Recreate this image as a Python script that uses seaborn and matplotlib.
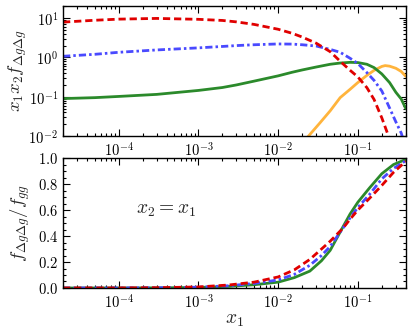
import numpy as np
import pandas as pd
import seaborn as sns
import matplotlib
matplotlib.use("Agg")
import matplotlib.pyplot as plt
from matplotlib.ticker import FuncFormatter, LogLocator, MultipleLocator, NullFormatter

# ---- data ----
x_top = [2e-5, 5e-5, 1e-4, 3e-4, 1e-3, 2e-3, 3e-3, 5e-3, 1e-2, 1.5e-2, 2e-2, 3e-2,
         4.5e-2, 6e-2, 8e-2, 0.1, 0.13, 0.16, 0.2, 0.25, 0.3, 0.35, 0.4]
red_top = [7.9, 8.8, 9.4, 9.8, 9.3, 8.7, 8.0, 6.9, 5.2, 4.1, 3.3, 2.3,
           1.4, 0.8, 0.47, 0.32, 0.17, 0.085, 0.029, 0.0085, 0.0015, 0.0004, 0.0001]
blue_top = [1.07, 1.2, 1.35, 1.55, 1.75, 1.9, 2.0, 2.1, 2.2, 2.18, 2.1, 1.95,
            1.6, 1.35, 0.95, 0.7, 0.41, 0.26, 0.14, 0.052, 0.023, 0.012, 0.005]
green_top = [0.09, 0.095, 0.102, 0.115, 0.145, 0.172, 0.2, 0.25, 0.34, 0.42, 0.48, 0.57,
             0.67, 0.72, 0.75, 0.74, 0.67, 0.55, 0.38, 0.23, 0.13, 0.088, 0.05]
x_orange = [0.02, 0.024, 0.033, 0.045, 0.06, 0.08, 0.1, 0.13, 0.16, 0.2, 0.22, 0.25,
            0.3, 0.35, 0.4]
orange_top = [0.006, 0.01, 0.021, 0.044, 0.095, 0.155, 0.23, 0.35, 0.47, 0.59, 0.62, 0.6,
              0.53, 0.44, 0.33]

x_bot = [2e-5, 1e-4, 3e-4, 1e-3, 2.4e-3, 5e-3, 1e-2, 1.6e-2, 2.5e-2, 3.5e-2, 4.5e-2,
         6.5e-2, 8e-2, 0.1, 0.14, 0.2, 0.28, 0.4]
red_bot = [0.0, 0.0005, 0.002, 0.008, 0.023, 0.045, 0.085, 0.14, 0.22, 0.3, 0.36,
           0.46, 0.53, 0.6, 0.69, 0.79, 0.89, 0.975]
blue_bot = [0.0, 0.0003, 0.0015, 0.006, 0.017, 0.035, 0.062, 0.105, 0.175, 0.25, 0.32,
            0.46, 0.54, 0.62, 0.72, 0.84, 0.92, 0.98]
green_bot = [0.0, 0.0002, 0.001, 0.004, 0.012, 0.025, 0.045, 0.08, 0.13, 0.21, 0.29,
             0.47, 0.57, 0.66, 0.77, 0.88, 0.95, 0.99]

ylabel_top = r"$x_1 x_2 f_{\Delta g \Delta g}$"
ylabel_bot = r"$f_{\Delta g \Delta g}/f_{gg}$"
xlabel = r"$x_1$"
annot = r"$x_2 = x_1$"

# ---- style ----
sns.set_style("ticks")
plt.rcParams["mathtext.fontset"] = "cm"
plt.rcParams["font.family"] = ["DejaVu Serif"]

RED = "#e00000"
BLUE = "#4a4aff"
GREEN = "#2b8a2b"
ORANGE = "#ffb43c"
LW = 2.0

fig = plt.figure(figsize=(4.12, 3.28), dpi=100)
ax1 = fig.add_axes([0.153, 0.585, 0.832, 0.396])
ax2 = fig.add_axes([0.153, 0.122, 0.832, 0.396])

def draw(ax, x, y, color, ls, dashes=None):
    df = pd.DataFrame({"x": x, "y": y})
    sns.lineplot(data=df, x="x", y="y", ax=ax, color=color, lw=LW, linestyle=ls)
    if dashes is not None:
        ax.lines[-1].set_dashes(dashes)

draw(ax1, x_orange, orange_top, ORANGE, "-")
draw(ax1, x_top, green_top, GREEN, "-")
draw(ax1, x_top, blue_top, BLUE, "-.", (2.6, 1.1, 0.9, 1.1))
draw(ax1, x_top, red_top, RED, "--", (2.6, 1.4))

draw(ax2, x_bot, green_bot, GREEN, "-")
draw(ax2, x_bot, blue_bot, BLUE, "-.", (2.6, 1.1, 0.9, 1.1))
draw(ax2, x_bot, red_bot, RED, "--", (2.6, 1.4))

logfmt = FuncFormatter(lambda v, p: r"$10^{%d}$" % int(round(np.log10(v))))
for ax in (ax1, ax2):
    ax.set_xscale("log")
    ax.set_xlim(2e-5, 0.4)
    ax.xaxis.set_major_locator(LogLocator(base=10, numticks=10))
    ax.xaxis.set_minor_locator(LogLocator(base=10, subs=np.arange(2, 10), numticks=10))
    ax.xaxis.set_major_formatter(logfmt)
    ax.xaxis.set_minor_formatter(NullFormatter())
    ax.tick_params(which="both", direction="in", top=True, right=True,
                   labelsize=10.5, colors="black", width=0.8)
    ax.tick_params(which="major", length=5)
    ax.tick_params(which="minor", length=2.5)
    for s in ax.spines.values():
        s.set_linewidth(1.0)
        s.set_color("black")
    ax.set_xlabel("")
    ax.set_ylabel("")

ax1.set_yscale("log")
ax1.set_ylim(1e-2, 20)
ax1.yaxis.set_major_locator(LogLocator(base=10, numticks=10))
ax1.yaxis.set_minor_locator(LogLocator(base=10, subs=np.arange(2, 10), numticks=10))
ax1.yaxis.set_major_formatter(logfmt)
ax1.yaxis.set_minor_formatter(NullFormatter())
ax1.set_ylabel(ylabel_top, fontsize=13.5)
ax1.yaxis.set_label_coords(-0.1, 0.5)

ax2.set_ylim(0, 1.0)
ax2.yaxis.set_major_locator(MultipleLocator(0.2))
ax2.yaxis.set_minor_locator(MultipleLocator(0.05))
ax2.yaxis.set_major_formatter(FuncFormatter(lambda v, p: r"$%.1f$" % v))
ax2.set_ylabel(ylabel_bot, fontsize=13.5)
ax2.yaxis.set_label_coords(-0.09, 0.5)
ax2.set_xlabel(xlabel, fontsize=14, labelpad=0)
ax2.text(0.3, 0.6, annot, transform=ax2.transAxes, fontsize=14,
         ha="center", va="center")

fig.savefig("out.png", dpi=100)
